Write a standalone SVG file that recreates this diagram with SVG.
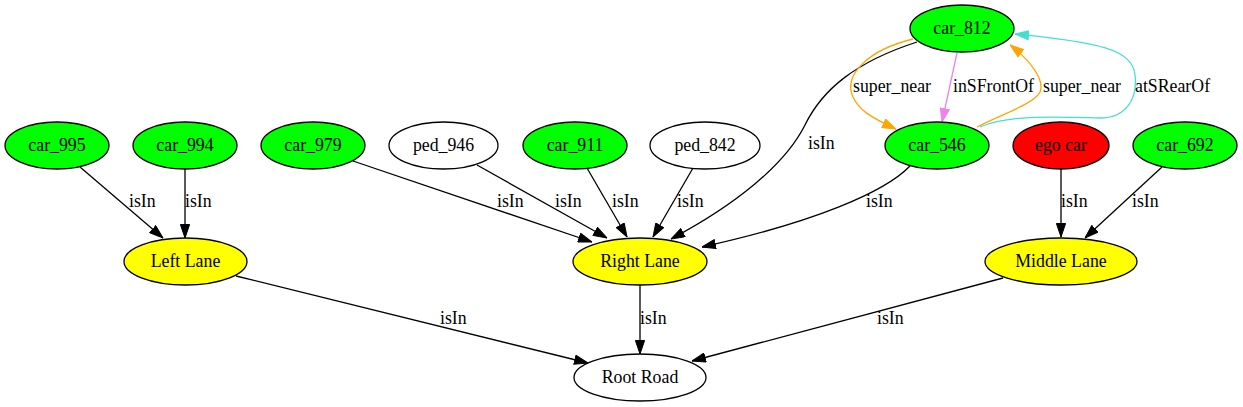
<svg xmlns="http://www.w3.org/2000/svg" width="1243" height="407" viewBox="0 0 1243 407">
<style>
text{font-family:"Liberation Serif","Times New Roman",serif;font-size:17.8px;fill:#000}
.n text{text-anchor:middle}
.n ellipse{stroke:#000;stroke-width:1.3}
.car{fill:#00ff00}.ped{fill:#fff}.lane{fill:#ffff00}.ego{fill:#ff0000}
.e path{fill:none;stroke-width:1.3}
.k{stroke:#000;marker-end:url(#ak)}
.o{stroke:#ffa500;marker-end:url(#ao)}
.v{stroke:#ee82ee;marker-end:url(#av)}
.t{stroke:#40e0d0;marker-end:url(#at)}
</style>
<defs>
<marker id="ak" viewBox="0 0 14 10" refX="14" refY="5" markerWidth="14" markerHeight="10" markerUnits="userSpaceOnUse" orient="auto"><path d="M0.5,0.4L14,5L0.5,9.6z" fill="#000" stroke="#000"/></marker>
<marker id="ao" viewBox="0 0 14 10" refX="14" refY="5" markerWidth="14" markerHeight="10" markerUnits="userSpaceOnUse" orient="auto"><path d="M0.5,0.4L14,5L0.5,9.6z" fill="#ffa500" stroke="#ffa500"/></marker>
<marker id="av" viewBox="0 0 14 10" refX="14" refY="5" markerWidth="14" markerHeight="10" markerUnits="userSpaceOnUse" orient="auto"><path d="M0.5,0.4L14,5L0.5,9.6z" fill="#ee82ee" stroke="#ee82ee"/></marker>
<marker id="at" viewBox="0 0 14 10" refX="14" refY="5" markerWidth="14" markerHeight="10" markerUnits="userSpaceOnUse" orient="auto"><path d="M0.5,0.4L14,5L0.5,9.6z" fill="#40e0d0" stroke="#40e0d0"/></marker>
</defs>
<rect width="1243" height="407" fill="#fff"/>
<g id="connectors" class="e">
<path class="k" d="M80,167L163,238"/>
<text x="129" y="207">isIn</text>
<path class="k" d="M185,169L185,238"/>
<text x="185" y="207">isIn</text>
<path class="k" d="M353,161L592,242"/>
<text x="497" y="207">isIn</text>
<path class="k" d="M477,165L607,238"/>
<text x="555" y="207">isIn</text>
<path class="k" d="M587,168L627,237"/>
<text x="612" y="207">isIn</text>
<path class="k" d="M693,168L653,237"/>
<text x="677" y="207">isIn</text>
<path class="k" d="M917,42C855,62 822,90 805,125C785,165 735,205 671,239"/>
<text x="808" y="149">isIn</text>
<path class="k" d="M910,166C885,192 815,222 702,247"/>
<text x="866" y="207">isIn</text>
<path class="k" d="M1061,169L1061,237"/>
<text x="1061" y="207">isIn</text>
<path class="k" d="M1162,167L1085,238"/>
<text x="1132" y="207">isIn</text>
<path class="k" d="M236,276L588,363"/>
<text x="440" y="324">isIn</text>
<path class="k" d="M640,285L640,354"/>
<text x="640" y="324">isIn</text>
<path class="k" d="M1003,278L692,361"/>
<text x="877" y="324">isIn</text>
<path class="o" d="M913,39C868,50 843,75 853,97C859,110 870,117 896,129"/>
<text x="853" y="92">super_near</text>
<path class="v" d="M957,53L942,122"/>
<text x="953" y="92">inSFrontOf</text>
<path class="o" d="M977,127C1005,113 1035,103 1040,92C1045,80 1030,60 1010,45"/>
<text x="1043" y="92">super_near</text>
<path class="t" d="M980,127C1010,114 1060,117 1100,118C1125,118 1138,100 1135,75C1133,50 1100,42 1015,34"/>
<text x="1135" y="92">atSRearOf</text>
</g>
<g id="car_812" class="n"><ellipse class="car" cx="962" cy="28.5" rx="52" ry="23.5"/><text x="962" y="33.5">car_812</text></g>
<g id="car_995" class="n"><ellipse class="car" cx="57" cy="145.5" rx="52" ry="23.5"/><text x="57" y="150.5">car_995</text></g>
<g id="car_994" class="n"><ellipse class="car" cx="185" cy="145.5" rx="52" ry="23.5"/><text x="185" y="150.5">car_994</text></g>
<g id="car_979" class="n"><ellipse class="car" cx="313" cy="145.5" rx="52" ry="23.5"/><text x="313" y="150.5">car_979</text></g>
<g id="ped_946" class="n"><ellipse class="ped" cx="443.5" cy="145.5" rx="54.5" ry="23.5"/><text x="443.5" y="150.5">ped_946</text></g>
<g id="car_911" class="n"><ellipse class="car" cx="575" cy="145.5" rx="52" ry="23.5"/><text x="575" y="150.5">car_911</text></g>
<g id="ped_842" class="n"><ellipse class="ped" cx="705" cy="145.5" rx="55" ry="23.5"/><text x="705" y="150.5">ped_842</text></g>
<g id="car_546" class="n"><ellipse class="car" cx="937" cy="145.5" rx="52" ry="23.5"/><text x="937" y="150.5">car_546</text></g>
<g id="ego_car" class="n"><ellipse class="ego" cx="1061" cy="145.5" rx="48" ry="23.5"/><text x="1061" y="150.5">ego car</text></g>
<g id="car_692" class="n"><ellipse class="car" cx="1185" cy="145.5" rx="52" ry="23.5"/><text x="1185" y="150.5">car_692</text></g>
<g id="left_lane" class="n"><ellipse class="lane" cx="185.5" cy="261.5" rx="61.5" ry="23.5"/><text x="185.5" y="266.5">Left Lane</text></g>
<g id="right_lane" class="n"><ellipse class="lane" cx="640" cy="261.5" rx="67" ry="23.5"/><text x="640" y="266.5">Right Lane</text></g>
<g id="middle_lane" class="n"><ellipse class="lane" cx="1061" cy="261.5" rx="76" ry="23.5"/><text x="1061" y="266.5">Middle Lane</text></g>
<g id="root_road" class="n"><ellipse class="ped" cx="640" cy="377.5" rx="66" ry="23.5"/><text x="640" y="382.5">Root Road</text></g>
</svg>
